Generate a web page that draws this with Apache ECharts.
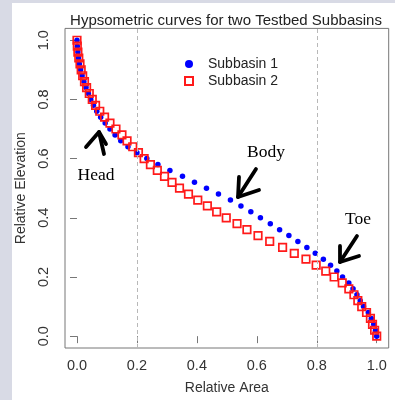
<!DOCTYPE html>
<html>
<head>
<meta charset="utf-8">
<script src="https://cdn.jsdelivr.net/npm/echarts@6/dist/echarts.min.js"></script>
<style>
  html, body { margin: 0; padding: 0; background: #d8dae5; }
  #chart { width: 395px; height: 400px; }
</style>
</head>
<body>
<div id="chart"></div>
<script>
// relative elevation of each sample (same for both subbasins)
const elevation = [
  1.00, 0.98, 0.96, 0.94, 0.92, 0.90, 0.88, 0.86, 0.84, 0.82,
  0.80, 0.78, 0.76, 0.74, 0.72, 0.70, 0.68, 0.66, 0.64, 0.62,
  0.60, 0.58, 0.56, 0.54, 0.52, 0.50, 0.48, 0.46, 0.44, 0.42,
  0.40, 0.38, 0.36, 0.34, 0.32, 0.30, 0.28, 0.26, 0.24, 0.22,
  0.20, 0.18, 0.16, 0.14, 0.12, 0.10, 0.08, 0.06, 0.04, 0.02, 0.00
];

// relative area, Subbasin 1
const area1 = [
  0.000, 0.001, 0.003, 0.005, 0.008, 0.012, 0.017, 0.023, 0.030, 0.038,
  0.046, 0.055, 0.066, 0.079, 0.094, 0.110, 0.127, 0.146, 0.170, 0.200,
  0.233, 0.270, 0.310, 0.352, 0.392, 0.432, 0.472, 0.512, 0.547, 0.580,
  0.612, 0.645, 0.676, 0.707, 0.737, 0.767, 0.795, 0.822, 0.846, 0.867,
  0.886, 0.907, 0.921, 0.934, 0.945, 0.956, 0.972, 0.982, 0.990, 0.996, 1.000
];

// relative area, Subbasin 2
const area2 = [
  0.000, 0.001, 0.003, 0.006, 0.010, 0.014, 0.019, 0.025, 0.032, 0.041,
  0.051, 0.062, 0.076, 0.092, 0.110, 0.130, 0.150, 0.167, 0.186, 0.205,
  0.224, 0.245, 0.268, 0.292, 0.317, 0.342, 0.372, 0.403, 0.435, 0.466,
  0.498, 0.534, 0.567, 0.604, 0.643, 0.686, 0.725, 0.764, 0.798, 0.830,
  0.858, 0.885, 0.907, 0.924, 0.937, 0.950, 0.966, 0.979, 0.986, 0.993, 1.000
];

const tickValues = [0, 0.2, 0.4, 0.6, 0.8, 1.0];
const refLines = [0.2, 0.8];

const font = '"Liberation Sans", Arial, sans-serif';
const serif = '"Liberation Serif", "Times New Roman", serif';

const toPoints = (xs) => xs.map((x, i) => [x, elevation[i]]);

const arrow = (pts) => ({
  type: 'polyline',
  shape: { points: pts },
  style: { stroke: '#000', lineWidth: 3.8, fill: null, lineCap: 'round', lineJoin: 'round' },
  z: 100
});

const note = (text, x, y) => ({
  type: 'text',
  x, y,
  style: { text, fontSize: 17.5, fontFamily: serif, fill: '#000', align: 'center', verticalAlign: 'middle' },
  z: 100
});

const myChart = echarts.init(document.getElementById('chart'), null, { renderer: 'canvas' });

const option = {
  animation: false,
  backgroundColor: '#d8dae5',
  title: {
    text: 'Hypsometric curves for two Testbed Subbasins',
    left: 221,
    top: 8,
    textAlign: 'center',
    textStyle: { fontFamily: font, fontSize: 15, fontWeight: 'normal', color: '#222' }
  },
  legend: {
    orient: 'vertical',
    left: 179,
    top: 52,
    itemWidth: 8,
    itemHeight: 8,
    itemGap: 3,
    data: ['Subbasin 1', 'Subbasin 2'],
    textStyle: { fontFamily: font, fontSize: 14, color: '#222', padding: [0, 0, 0, 10] }
  },
  grid: {
    left: 65, top: 28.4, right: 6.3, bottom: 50.4,
    show: true, borderColor: '#777', borderWidth: 1, backgroundColor: '#fff'
  },
  xAxis: {
    type: 'value',
    min: -0.04, max: 1.04,
    name: 'Relative Area',
    nameLocation: 'middle',
    nameGap: 33,
    nameTextStyle: { fontFamily: font, fontSize: 14, color: '#333' },
    axisLine: { show: false },
    axisTick: { show: true, length: 7, customValues: tickValues, lineStyle: { color: '#777' } },
    axisLabel: {
      customValues: tickValues, margin: 10,
      fontFamily: font, fontSize: 14.5, color: '#333',
      formatter: (v) => v.toFixed(1)
    },
    splitLine: { show: false }
  },
  yAxis: {
    type: 'value',
    min: -0.04, max: 1.04,
    name: 'Relative Elevation',
    nameLocation: 'middle',
    nameGap: 35,
    nameTextStyle: { fontFamily: font, fontSize: 14, color: '#333' },
    axisLine: { show: false },
    axisTick: { show: true, length: 7, customValues: tickValues, lineStyle: { color: '#777' } },
    axisLabel: {
      customValues: tickValues, margin: 14, rotate: 90,
      fontFamily: font, fontSize: 14.5, color: '#333',
      formatter: (v) => v.toFixed(1)
    },
    splitLine: { show: false }
  },
  graphic: [
    { type: 'rect', shape: { x: 12, y: 3, width: 383, height: 397 }, style: { fill: '#fff' }, z: -100 },
    note('Head', 96, 175),
    note('Body', 266, 152),
    note('Toe', 358, 219),
    arrow([[86, 147], [99, 132], [106, 144]]),
    arrow([[99, 132], [104, 154]]),
    arrow([[239, 177], [238, 197], [259, 190]]),
    arrow([[238, 197], [256, 169]]),
    arrow([[340, 246], [340, 262], [359, 256]]),
    arrow([[340, 262], [357, 236]])
  ],
  series: [
    {
      name: 'Subbasin 1',
      type: 'scatter',
      symbol: 'circle',
      symbolSize: 5.5,
      itemStyle: { color: '#0000ff', opacity: 1 },
      data: toPoints(area1),
      z: 3,
      markLine: {
        silent: true,
        symbol: 'none',
        label: { show: false },
        lineStyle: { color: '#b8b8b8', type: [4, 3], width: 1 },
        data: refLines.map((v) => ({ xAxis: v }))
      }
    },
    {
      name: 'Subbasin 2',
      type: 'scatter',
      symbol: 'rect',
      symbolSize: 7.5,
      itemStyle: { color: 'rgba(255,255,255,0)', borderColor: '#ff1a1a', borderWidth: 1.7, opacity: 1 },
      data: toPoints(area2),
      z: 4
    }
  ]
};

myChart.setOption(option);
</script>
</body>
</html>
